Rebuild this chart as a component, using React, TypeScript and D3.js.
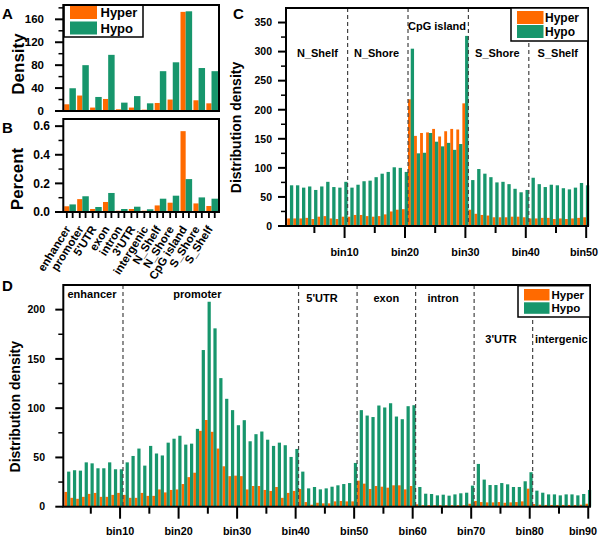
import React from 'react';
import * as d3 from 'd3';

const ORANGE = '#FF6A00';
const GREEN = '#17966C';
const FONT = "'Liberation Sans', Arial, Helvetica, sans-serif";

// ---------- Panel A / B data ----------
const categories = ['enhancer', 'promoter', "5'UTR", 'exon', 'intron', "3'UTR", 'intergenic', 'N_Shelf', 'N_Shore', 'CpG island', 'S_Shore', 'S_Shelf'];
const densityHyper = [11.7, 27, 6, 21, 3, 6, 2.3, 14, 20, 173, 18.7, 13.4];
const densityHypo = [39.7, 80, 24.5, 98, 14.6, 26, 13.4, 69.5, 85, 174, 75, 69.5];
const percentHyper = [0.04, 0.09, 0.021, 0.07, 0.009, 0.021, 0.009, 0.046, 0.065, 0.565, 0.06, 0.042];
const percentHypo = [0.053, 0.11, 0.035, 0.133, 0.021, 0.037, 0.019, 0.093, 0.114, 0.23, 0.102, 0.093];
const densityTicks = [0, 40, 80, 120, 160];
const percentTicks = [0, 0.2, 0.4, 0.6];

// ---------- Panel C data ----------
const cHyper = [13, 13, 13, 14, 12, 16, 17, 13, 12, 16, 16, 19, 19, 17, 16, 17, 20, 25, 28, 29, 218, 155, 160, 161, 167, 154, 163, 167, 166, 211, 28, 21, 19, 18, 15, 15, 15, 16, 16, 15, 13, 13, 14, 14, 12, 13, 12, 13, 14, 15];
const cHypo = [70, 70, 66, 68, 62, 68, 76, 67, 66, 76, 66, 71, 77, 78, 84, 90, 93, 101, 100, 93, 305, 125, 126, 160, 145, 137, 143, 131, 141, 327, 79, 98, 90, 84, 75, 76, 72, 64, 58, 62, 83, 72, 67, 71, 70, 65, 63, 66, 74, 70];
const cRegions = ['N_Shelf', 'N_Shore', 'CpG island', 'S_Shore', 'S_Shelf'];
const cRegionLabelBins = [5.5, 15.3, 25.3, 35.3, 45.3];
const cRegionLabelRow = [1, 1, 0, 1, 1];
const cBoundaries = [10.5, 20.5, 30.5, 40.5];
const cBinTicks = [10, 20, 30, 40, 50];
const cYTicks = [0, 50, 100, 150, 200, 250, 300, 350];

// ---------- Panel D data ----------
const dHyper = [15, 9, 8, 10, 13, 14, 10, 10, 12, 14, 12, 9, 9, 14, 11, 11, 17.5, 14.5, 17, 17.5, 23, 30, 34.5, 77, 88, 76, 59, 41, 31, 31.5, 31, 17.5, 21, 21, 17, 16, 20, 9, 14, 16, 18, 4.7, 2, 4, 3.4, 3.4, 5.4, 5.8, 5.4, 5.4, 26.4, 23.4, 18, 21, 20.3, 19.3, 21.7, 21.7, 17.6, 21, 2.4, 1.5, 1.5, 1.5, 1.5, 1.5, 1.5, 1.5, 1.5, 3, 5.8, 4.7, 4.4, 4.4, 4.7, 4, 4.4, 4.7, 5.4, 18.3, 2.7, 2, 1.8, 1.8, 1.8, 1.8, 1.8, 1.8, 2, 3];
const dHypo = [35.6, 37, 36.6, 45, 44, 39, 39, 45, 38, 38, 45, 51.5, 59, 41.7, 61.7, 54, 52, 65, 69, 72, 63, 64, 79, 159, 208, 181, 130.5, 109.5, 98, 82.7, 87.8, 66.4, 73.6, 76.3, 68, 61.7, 65, 62.4, 50.5, 58.6, 35.6, 18.6, 20, 17.6, 18.6, 20.3, 21.7, 23, 24, 44.4, 98, 92.5, 91, 102.7, 100.7, 105, 91.5, 88.8, 102, 103, 20, 13.2, 12.9, 11.5, 12.2, 11.2, 12.5, 13.6, 14.2, 21.4, 43.4, 27.5, 22, 22, 24, 22.7, 20, 20, 25.8, 35, 16.3, 14.2, 12.5, 12.5, 11.5, 12.5, 12.5, 11.5, 12.9, 17];
const dRegions = ['enhancer', 'promoter', "5'UTR", 'exon', 'intron', "3'UTR", 'intergenic'];
const dRegionLabelBins = [5.2, 23.2, 44.5, 55.5, 65.2, 75.1, 85.4];
const dRegionLabelRow = [0, 0, 1, 1, 1, 2, 2];
const dBoundaries = [10.5, 40.5, 50.5, 60.5, 70.5, 80.5];
const dBinTicks = [10, 20, 30, 40, 50, 60, 70, 80, 90];
const dYTicks = [0, 50, 100, 150, 200];

const bold = { fontFamily: FONT, fontWeight: 700 as const, fill: '#000' };

function Legend({ x, y, w, h, sw, swH, fs, tx, rows }: any) {
  return (
    <g>
      <rect x={x} y={y} width={w} height={h} fill="#fff" stroke="#000" strokeWidth={1.5} />
      <rect x={x + 6} y={rows[0]} width={sw} height={swH} fill={ORANGE} />
      <rect x={x + 6} y={rows[1]} width={sw} height={swH} fill={GREEN} />
      <text x={tx} y={rows[0] + swH - 2} fontSize={fs} {...bold}>Hyper</text>
      <text x={tx} y={rows[1] + swH - 2} fontSize={fs} {...bold}>Hypo</text>
    </g>
  );
}

function BinPanel(props: any) {
  const { x0, x1, y0, y1, n, yMax, hyper, hypo, yTicks, binTicks, boundaries, regions, regionBins, regionRow, rowY, labelRight, binLabelY, title, titleX, titleY, fsY, maxLabelX } = props;
  const xs = d3.scaleLinear().domain([0.3, n + 0.3]).range([x0, x1]);
  const ys = d3.scaleLinear().domain([0, yMax]).range([y1, y0]);
  const bw = xs(1) - xs(0);
  const bins = d3.range(1, n + 1);
  const minorY = d3.range(25, yMax, 50);
  const minorX = binTicks.map((b: number) => b - 5);
  return (
    <g>
      {bins.map((b, i) => (
        <rect key={'o' + b} x={xs(b) - 0.5 * bw} y={ys(hyper[i])} width={0.47 * bw} height={y1 - ys(hyper[i])} fill={ORANGE} />
      ))}
      {bins.map((b, i) => (
        <rect key={'g' + b} x={xs(b) - 0.05 * bw} y={ys(hypo[i])} width={0.55 * bw} height={y1 - ys(hypo[i])} fill={GREEN} />
      ))}
      {boundaries.map((b: number) => (
        <line key={'d' + b} x1={xs(b)} x2={xs(b)} y1={y0} y2={y1} stroke="#444" strokeWidth={1.2} strokeDasharray="4,3" />
      ))}
      {regions.map((r: string, i: number) => (
        <text key={r} x={xs(regionBins[i])} y={rowY[regionRow[i]]} fontSize={11} textAnchor="middle" {...bold}>{r}</text>
      ))}
      <rect x={x0} y={y0} width={x1 - x0} height={y1 - y0} fill="none" stroke="#000" strokeWidth={2} />
      {yTicks.map((t: number) => (
        <g key={'yt' + t}>
          <line x1={x0 - 8} x2={x0} y1={ys(t)} y2={ys(t)} stroke="#000" strokeWidth={2} />
          <text x={labelRight} y={ys(t)} dy="0.36em" fontSize={fsY} textAnchor="end" {...bold}>{t}</text>
        </g>
      ))}
      {minorY.map((t: number) => (
        <line key={'ym' + t} x1={x0 - 5} x2={x0} y1={ys(t)} y2={ys(t)} stroke="#000" strokeWidth={1.5} />
      ))}
      {binTicks.map((b: number) => (
        <g key={'xt' + b}>
          <line x1={xs(b)} x2={xs(b)} y1={y1} y2={y1 + 12} stroke="#000" strokeWidth={2} />
          <text x={Math.min(xs(b), maxLabelX)} y={binLabelY} fontSize={10.8} textAnchor="middle" {...bold}>{'bin' + b}</text>
        </g>
      ))}
      {minorX.map((b: number) => (
        <line key={'xm' + b} x1={xs(b)} x2={xs(b)} y1={y1} y2={y1 + 7} stroke="#000" strokeWidth={2} />
      ))}
      <text transform={`translate(${titleX},${titleY}) rotate(-90)`} dy="0.36em" fontSize={14} textAnchor="middle" {...bold}>{title}</text>
    </g>
  );
}

export default function App() {
  const aX = d3.scaleBand<string>().domain(categories).range([64, 219]);
  const step = aX.step();
  const aY = d3.scaleLinear().domain([0, 185]).range([111, 5]);
  const bY = d3.scaleLinear().domain([0, 0.65]).range([212, 119]);
  const aMinor = d3.range(20, 185, 40);
  const bMinor = [0.1, 0.3, 0.5];

  return (
    <svg width={600} height={536} style={{ position: 'absolute', left: 0, top: 0, background: '#fff' }}>
      <rect x={0} y={0} width={600} height={536} fill="#fff" />
      {/* Panel A */}
      {categories.map((c, i) => (
        <g key={'a' + c}>
          <rect x={aX(c)! + 0.02 * step} y={aY(densityHyper[i])} width={0.4 * step} height={111 - aY(densityHyper[i])} fill={ORANGE} />
          <rect x={aX(c)! + 0.42 * step} y={aY(densityHypo[i])} width={0.5 * step} height={111 - aY(densityHypo[i])} fill={GREEN} />
        </g>
      ))}
      <Legend x={64} y={5} w={79} h={32} sw={27} swH={13} fs={13} tx={100.5} rows={[6, 21.5]} />
      <rect x={63.3} y={5} width={219 - 63.3} height={106} fill="none" stroke="#000" strokeWidth={2} />
      {densityTicks.map((t) => (
        <g key={'at' + t}>
          <line x1={55} x2={63.3} y1={aY(t)} y2={aY(t)} stroke="#000" strokeWidth={2} />
          <text x={44} y={aY(t)} dy="0.36em" fontSize={11.5} textAnchor="end" {...bold}>{t}</text>
        </g>
      ))}
      {aMinor.map((t) => (
        <line key={'am' + t} x1={58.5} x2={63.3} y1={aY(t)} y2={aY(t)} stroke="#000" strokeWidth={1.5} />
      ))}
      <text transform="translate(18,64) rotate(-90)" dy="0.36em" fontSize={17} textAnchor="middle" {...bold}>Density</text>
      <text x={2} y={18.5} fontSize={15} {...bold}>A</text>

      {/* Panel B */}
      {categories.map((c, i) => (
        <g key={'b' + c}>
          <rect x={aX(c)! + 0.02 * step} y={bY(percentHyper[i])} width={0.4 * step} height={212 - bY(percentHyper[i])} fill={ORANGE} />
          <rect x={aX(c)! + 0.42 * step} y={bY(percentHypo[i])} width={0.5 * step} height={212 - bY(percentHypo[i])} fill={GREEN} />
          <line x1={aX(c)! + 0.22 * step} x2={aX(c)! + 0.22 * step} y1={212} y2={218} stroke="#000" strokeWidth={1.8} />
          <line x1={aX(c)! + 0.67 * step} x2={aX(c)! + 0.67 * step} y1={212} y2={218} stroke="#000" strokeWidth={1.8} />
          <text transform={`translate(${aX(c)! + 0.55 * step},${229}) rotate(-58)`} fontSize={11.5} textAnchor="end" {...bold}>{c}</text>
        </g>
      ))}
      <rect x={63.3} y={119} width={219 - 63.3} height={93} fill="none" stroke="#000" strokeWidth={2} />
      {percentTicks.map((t) => (
        <g key={'bt' + t}>
          <line x1={55} x2={63.3} y1={bY(t)} y2={bY(t)} stroke="#000" strokeWidth={2} />
          <text x={50} y={bY(t)} dy="0.36em" fontSize={12} textAnchor="end" {...bold}>{t.toFixed(1)}</text>
        </g>
      ))}
      {bMinor.map((t) => (
        <line key={'bm' + t} x1={58.5} x2={63.3} y1={bY(t)} y2={bY(t)} stroke="#000" strokeWidth={1.5} />
      ))}
      <text transform="translate(16.5,179) rotate(-90)" dy="0.36em" fontSize={17} textAnchor="middle" {...bold}>Percent</text>
      <text x={2} y={133} fontSize={15} {...bold}>B</text>

      {/* Panel C */}
      <BinPanel x0={286} x1={588} y0={8} y1={226} n={50} yMax={375} hyper={cHyper} hypo={cHypo}
        yTicks={cYTicks} binTicks={cBinTicks} boundaries={cBoundaries} regions={cRegions}
        regionBins={cRegionLabelBins} regionRow={cRegionLabelRow} rowY={[29.5, 56.5]}
        labelRight={272} binLabelY={255.5} title="Distribution density" titleX={235.5} titleY={127.5} fsY={10.5} maxLabelX={584} />
      <Legend x={511} y={8} w={77} h={33} sw={26.5} swH={13} fs={12} tx={545} rows={[11, 25]} />
      <text x={233} y={18.5} fontSize={15} {...bold}>C</text>

      {/* Panel D */}
      <BinPanel x0={63.3} x1={590} y0={285} y1={506.7} n={90} yMax={225} hyper={dHyper} hypo={dHypo}
        yTicks={dYTicks} binTicks={dBinTicks} boundaries={dBoundaries} regions={dRegions}
        regionBins={dRegionLabelBins} regionRow={dRegionLabelRow} rowY={[298.3, 301.7, 343]}
        labelRight={45} binLabelY={535} title="Distribution density" titleX={15} titleY={406.7} fsY={10.5} maxLabelX={583} />
      <Legend x={518} y={285.7} w={72} h={31.3} sw={25.5} swH={11.5} fs={11.5} tx={551.5} rows={[289, 302.3]} />
      <text x={2} y={291} fontSize={15} {...bold}>D</text>
    </svg>
  );
}
